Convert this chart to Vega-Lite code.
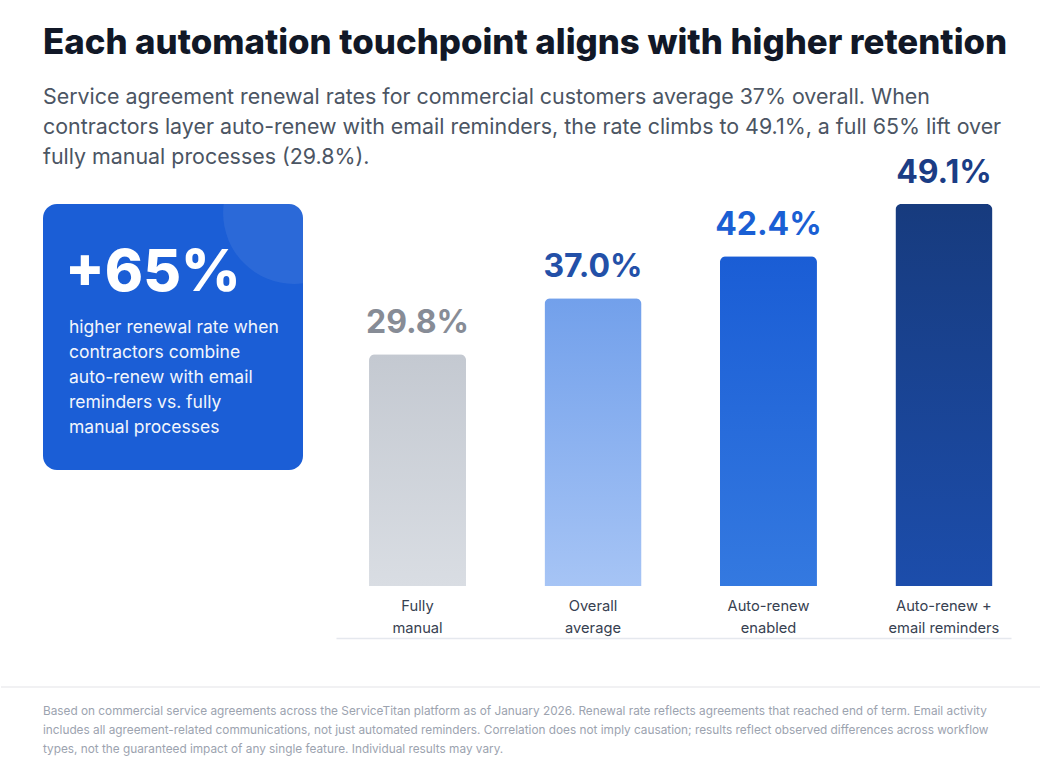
{
  "$schema": "https://vega.github.io/schema/vega-lite/v6.json",
  "autosize": {"type": "pad"},
  "background": "#ffffff",
  "padding": {"left": 0, "top": 25, "right": 0, "bottom": 0},
  "config": {
    "font": "Inter",
    "view": {"stroke": null}
  },
  "title": {
    "text": "Each automation touchpoint aligns with higher retention",
    "subtitle": [
      "Service agreement renewal rates for commercial customers average 37% overall. When",
      "contractors layer auto-renew with email reminders, the rate climbs to 49.1%, a full 65% lift over",
      "fully manual processes (29.8%)."
    ],
    "anchor": "start",
    "frame": "group",
    "font": "Inter",
    "fontSize": 34.8,
    "fontWeight": 800,
    "color": "#111827",
    "subtitleFont": "Inter",
    "subtitleFontSize": 21.4,
    "subtitleFontWeight": 400,
    "subtitleColor": "#4b5563",
    "subtitleLineHeight": 30,
    "subtitlePadding": 25,
    "offset": -12
  },
  "bounds": "flush",
  "align": "each",
  "columns": 2,
  "spacing": {"row": 101, "column": 33},
  "concat": [
    {
      "width": 260,
      "height": 266,
      "view": {"fill": "#1b5ed6", "cornerRadius": 14, "stroke": null},
      "data": {"values": [
        {
          "headline": "+65%",
          "body": [
            "higher renewal rate when",
            "contractors combine",
            "auto-renew with email",
            "reminders vs. fully",
            "manual processes"
          ]
        }
      ]},
      "layer": [
        {
          "mark": {"type": "circle", "clip": true, "color": "#ffffff", "opacity": 0.07, "size": 20100},
          "encoding": {"x": {"value": 251}, "y": {"value": 9}}
        },
        {
          "mark": {"type": "text", "align": "left", "baseline": "alphabetic", "font": "Inter", "fontSize": 58, "fontWeight": 800, "color": "#ffffff"},
          "encoding": {"x": {"value": 22}, "y": {"value": 87}, "text": {"field": "headline"}}
        },
        {
          "mark": {"type": "text", "align": "left", "baseline": "middle", "font": "Inter", "fontSize": 17.5, "fontWeight": 400, "color": "#ffffff", "lineHeight": 25, "opacity": 0.95},
          "encoding": {"x": {"value": 26}, "y": {"value": 124}, "text": {"field": "body"}}
        }
      ]
    },
    {
      "width": 675,
      "height": 382,
      "data": {"values": [
        {"group": "Fully manual", "rate": 0.298},
        {"group": "Overall average", "rate": 0.37},
        {"group": "Auto-renew enabled", "rate": 0.424},
        {"group": "Auto-renew + email reminders", "rate": 0.491}
      ]},
      "encoding": {
        "x": {
          "field": "group",
          "type": "nominal",
          "sort": null,
          "title": null,
          "scale": {"paddingInner": 0.447, "paddingOuter": 0.147, "align": 0.64},
          "axis": {
            "labelAngle": 0,
            "labelExpr": "datum.value == 'Auto-renew + email reminders' ? ['Auto-renew +', 'email reminders'] : split(datum.value, ' ')",
            "labelFont": "Inter",
            "labelFontSize": 14.7,
            "labelColor": "#374151",
            "labelLineHeight": 22,
            "labelBaseline": "top",
            "ticks": false,
            "tickSize": 0,
            "labelPadding": -40,
            "offset": 52,
            "domain": true,
            "domainColor": "#e5e8ee",
            "domainWidth": 1.5,
            "grid": false
          }
        },
        "y": {
          "field": "rate",
          "type": "quantitative",
          "scale": {"domain": [0, 0.491], "nice": false, "zero": true},
          "axis": null
        }
      },
      "layer": [
        {
          "mark": {"type": "bar", "cornerRadiusTopLeft": 6, "cornerRadiusTopRight": 6},
          "encoding": {
            "fill": {
              "condition": [
                {
                  "test": "datum.group == 'Fully manual'",
                  "value": {"gradient": "linear", "x1": 0, "y1": 0, "x2": 0, "y2": 1, "stops": [{"offset": 0, "color": "#c4c9d1"}, {"offset": 1, "color": "#d9dde3"}]}
                },
                {
                  "test": "datum.group == 'Overall average'",
                  "value": {"gradient": "linear", "x1": 0, "y1": 0, "x2": 0, "y2": 1, "stops": [{"offset": 0, "color": "#72a0eb"}, {"offset": 1, "color": "#a6c4f5"}]}
                },
                {
                  "test": "datum.group == 'Auto-renew enabled'",
                  "value": {"gradient": "linear", "x1": 0, "y1": 0, "x2": 0, "y2": 1, "stops": [{"offset": 0, "color": "#1a5dd5"}, {"offset": 1, "color": "#3479e0"}]}
                }
              ],
              "value": {"gradient": "linear", "x1": 0, "y1": 0, "x2": 0, "y2": 1, "stops": [{"offset": 0, "color": "#173b7e"}, {"offset": 1, "color": "#1c4dab"}]}
            }
          }
        },
        {
          "mark": {"type": "text", "baseline": "alphabetic", "dy": -21, "font": "Inter", "fontSize": 32, "fontWeight": 700},
          "encoding": {
            "text": {"field": "rate", "type": "quantitative", "format": ".1%"},
            "color": {
              "field": "group",
              "type": "nominal",
              "legend": null,
              "scale": {
                "domain": ["Fully manual", "Overall average", "Auto-renew enabled", "Auto-renew + email reminders"],
                "range": ["#878c96", "#2350a8", "#1a5fd4", "#1b3d85"]
              }
            }
          }
        }
      ]
    },
    {
      "width": 260,
      "height": 1,
      "data": {"values": [{"note": "footnote"}]},
      "mark": {"type": "rule", "color": "#ececef", "strokeWidth": 1.5},
      "encoding": {"x": {"value": -42}, "x2": {"value": 998}, "y": {"value": 0}},
      "title": {
        "text": [
          "Based on commercial service agreements across the ServiceTitan platform as of January 2026. Renewal rate reflects agreements that reached end of term. Email activity",
          "includes all agreement-related communications, not just automated reminders. Correlation does not imply causation; results reflect observed differences across workflow",
          "types, not the guaranteed impact of any single feature. Individual results may vary."
        ],
        "orient": "bottom",
        "anchor": "start",
        "frame": "group",
        "font": "Inter",
        "fontSize": 11.8,
        "fontWeight": 400,
        "color": "#9ca3af",
        "lineHeight": 19,
        "offset": 18
      }
    }
  ]
}
